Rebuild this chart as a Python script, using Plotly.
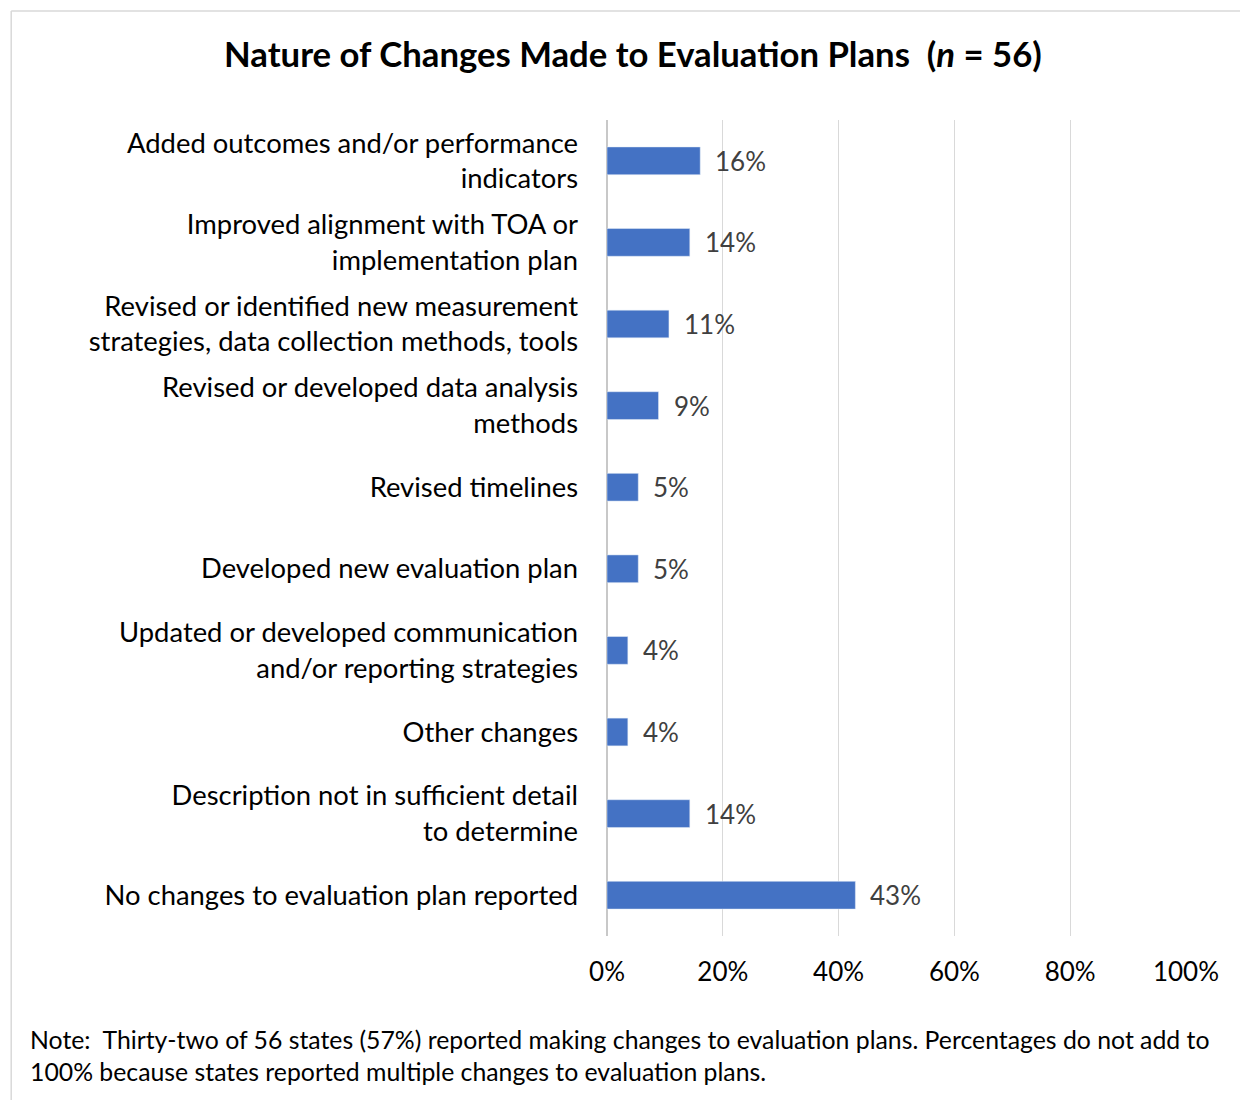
import plotly.graph_objects as go

categories = [
    "Added outcomes and/or performance<br>indicators",
    "Improved alignment with TOA or<br>implementation plan",
    "Revised or identified new measurement<br>strategies, data collection methods, tools",
    "Revised or developed data analysis<br>methods",
    "Revised timelines",
    "Developed new evaluation plan",
    "Updated or developed communication<br>and/or reporting strategies",
    "Other changes",
    "Description not in sufficient detail<br>to determine",
    "No changes to evaluation plan reported",
]
values = [16.1, 14.3, 10.7, 8.9, 5.4, 5.4, 3.6, 3.6, 14.3, 42.9]
tick_vals = [0, 20, 40, 60, 80, 100]
tick_text = ["0%", "20%", "40%", "60%", "80%", "100%"]

FONT = "Lato"
fig = go.Figure()
fig.add_trace(go.Bar(
    y=categories, x=values, orientation="h",
    marker=dict(color="#4472C4"),
    width=0.34,
    hoverinfo="skip",
))
for c, v in zip(categories, values):
    fig.add_annotation(x=v, y=c, text=f"{v:.0f}%", showarrow=False,
                       xanchor="left", xshift=13,
                       font=dict(family=FONT, size=26, color="#404040"))

fig.add_annotation(
    xref="paper", yref="paper", x=-1.0, y=-0.146, xanchor="left", yanchor="middle",
    align="left", showarrow=False,
    text="Note:  Thirty-two of 56 states (57%) reported making changes to evaluation plans. Percentages do not add to<br>100% because states reported multiple changes to evaluation plans.",
    font=dict(family=FONT, size=24.8, color="#000000"),
)

# chart frame
fig.add_shape(type="line", xref="paper", yref="paper", x0=-1.029, x1=-1.029, y0=1.1336, y1=-0.4,
              line=dict(color="#d9d9d9", width=1.5))
fig.add_shape(type="line", xref="paper", yref="paper", x0=-1.029, x1=1.2, y0=1.1336, y1=1.1336,
              line=dict(color="#d9d9d9", width=1.5))

fig.update_layout(
    width=1240, height=1092,
    margin=dict(l=599, r=62, t=112, b=164),
    paper_bgcolor="white", plot_bgcolor="white",
    showlegend=False,
    title=dict(text="<b>Nature of Changes Made to Evaluation Plans  (<i>n</i> = 56)</b>",
               x=0.504, xanchor="center", y=0.957, yanchor="middle",
               font=dict(family=FONT, size=34.7, color="#000000")),
    xaxis=dict(range=[0, 100], tickvals=tick_vals, ticktext=tick_text,
               showgrid=True, gridcolor="#d9d9d9", gridwidth=1,
               zeroline=True, zerolinecolor="#c8c8c8", zerolinewidth=2,
               ticks="", ticklabelstandoff=18,
               tickfont=dict(family=FONT, size=26, color="#000000")),
    yaxis=dict(autorange="reversed", showgrid=False, ticks="",
               ticklabelstandoff=28,
               tickfont=dict(family=FONT, size=27.4, color="#000000")),
)

fig.write_html("out.html")
